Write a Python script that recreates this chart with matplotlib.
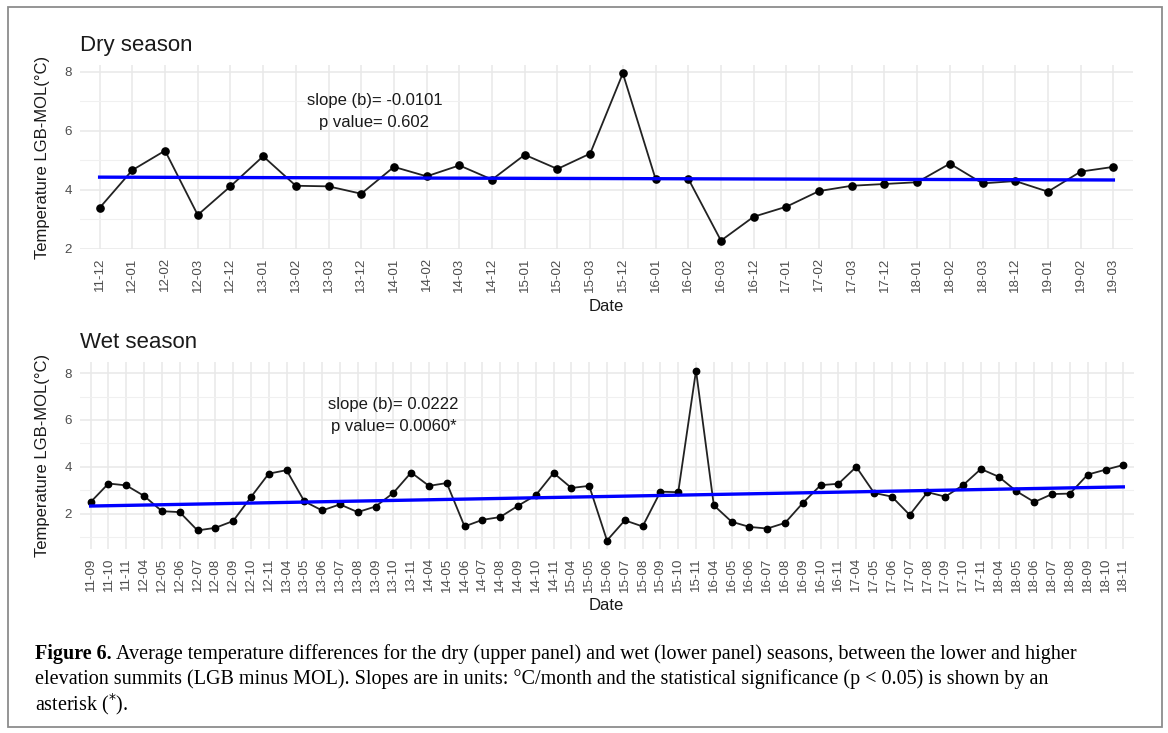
import numpy as np
import matplotlib.pyplot as plt
from matplotlib.patches import Rectangle

plt.rcParams['font.family'] = ['Liberation Sans', 'DejaVu Sans']

# dry season (upper panel)
dry_dates = ['11-12', '12-01', '12-02', '12-03', '12-12', '13-01', '13-02', '13-03',
             '13-12', '14-01', '14-02', '14-03', '14-12', '15-01', '15-02', '15-03',
             '15-12', '16-01', '16-02', '16-03', '16-12', '17-01', '17-02', '17-03',
             '17-12', '18-01', '18-02', '18-03', '18-12', '19-01', '19-02', '19-03']
dry_temp = [3.38, 4.66, 5.32, 3.14, 4.11, 5.13, 4.13, 4.11,
            3.86, 4.77, 4.45, 4.82, 4.34, 5.18, 4.70, 5.22,
            7.94, 4.36, 4.37, 2.27, 3.08, 3.42, 3.95, 4.13,
            4.19, 4.25, 4.88, 4.21, 4.29, 3.93, 4.61, 4.77]
dry_note = 'slope (b)= -0.0101\np value= 0.602'

# wet season (lower panel)
wet_dates = ['11-09', '11-10', '11-11',
             '12-04', '12-05', '12-06', '12-07', '12-08', '12-09', '12-10', '12-11',
             '13-04', '13-05', '13-06', '13-07', '13-08', '13-09', '13-10', '13-11',
             '14-04', '14-05', '14-06', '14-07', '14-08', '14-09', '14-10', '14-11',
             '15-04', '15-05', '15-06', '15-07', '15-08', '15-09', '15-10', '15-11',
             '16-04', '16-05', '16-06', '16-07', '16-08', '16-09', '16-10', '16-11',
             '17-04', '17-05', '17-06', '17-07', '17-08', '17-09', '17-10', '17-11',
             '18-04', '18-05', '18-06', '18-07', '18-08', '18-09', '18-10', '18-11']
wet_temp = [2.50, 3.29, 3.21,
            2.76, 2.11, 2.07, 1.29, 1.40, 1.69, 2.71, 3.71,
            3.86, 2.53, 2.14, 2.40, 2.07, 2.31, 2.89, 3.76,
            3.19, 3.31, 1.46, 1.74, 1.86, 2.34, 2.79, 3.74,
            3.10, 3.19, 0.86, 1.72, 1.46, 2.94, 2.92, 8.11,
            2.36, 1.66, 1.44, 1.37, 1.61, 2.46, 3.22, 3.28,
            4.00, 2.89, 2.73, 1.95, 2.92, 2.73, 3.22, 3.91,
            3.58, 2.96, 2.50, 2.84, 2.86, 3.67, 3.88, 4.08]
wet_note = 'slope (b)= 0.0222\np value= 0.0060*'

W, H = 1168, 733
fig = plt.figure(figsize=(W / 100, H / 100), dpi=100)


def px(x0, y0, x1, y1):
    # pixel box -> figure fraction [left, bottom, width, height]
    return [x0 / W, 1 - y1 / H, (x1 - x0) / W, (y1 - y0) / H]


def panel(box, dates, temp, ymin_ticks, note, note_xy, msize):
    ax = fig.add_axes(box)
    x = np.arange(len(dates))
    temp = np.array(temp)
    b, a = np.polyfit(x, temp, 1)          # linear trend like geom_smooth(lm)
    ax.plot(x, temp, color='#222222', lw=1.3, zorder=3)
    ax.plot(x, temp, 'o', color='black', ms=msize, zorder=4)
    ax.plot(x, a + b * x, color='#0000FF', lw=2.4, zorder=5)
    span = temp.max() - temp.min()
    ax.set_ylim(temp.min() - 0.05 * span, temp.max() + 0.05 * span)
    ax.set_xlim(-0.6, len(dates) - 0.4)
    ax.set_xticks(x)
    ax.set_xticklabels(dates, rotation=90, fontsize=9.6, color='#4D4D4D')
    ax.set_yticks([2, 4, 6, 8])
    ax.set_yticks(ymin_ticks, minor=True)
    ax.tick_params(axis='y', labelsize=9.6, labelcolor='#4D4D4D')
    ax.tick_params(which='both', length=0, pad=6)
    ax.grid(which='major', color='#E8E8E8', lw=1.1)
    ax.grid(which='minor', axis='y', color='#F0F0F0', lw=0.8)
    ax.set_axisbelow(True)
    for s in ax.spines.values():
        s.set_visible(False)
    ax.text(note_xy[0], note_xy[1], note, ha='center', va='center',
            fontsize=12, linespacing=1.6, color='#1A1A1A')
    return ax


ax1 = panel(px(80, 65, 1133, 249), dry_dates, dry_temp, [3, 5, 7],
            dry_note, (8.4, 6.64), 5.2)
ax2 = panel(px(80, 362, 1134, 549), wet_dates, wet_temp, [1, 3, 5, 7],
            wet_note, (17.0, 6.2), 4.6)

# titles, axis titles
fig.text(80 / W, 1 - 45 / H, 'Dry season', fontsize=16, va='center', color='#1A1A1A')
fig.text(80 / W, 1 - 343 / H, 'Wet season', fontsize=16, va='center', color='#1A1A1A')
for yc in [157, 455]:
    fig.text(43 / W, 1 - yc / H, 'Temperature LGB-MOL(°C)', rotation=90,
             fontsize=12, ha='center', va='center', color='#1A1A1A')
for yc in [307, 605]:
    fig.text(606 / W, 1 - yc / H, 'Date', fontsize=12, ha='center', va='center',
             color='#1A1A1A')

# caption
cap_font = ['Liberation Serif', 'DejaVu Serif']
cap_size = 14.5
t1 = fig.text(35 / W, 1 - 654 / H, 'Figure 6.', fontsize=cap_size, fontweight='bold',
              family=cap_font, va='center')
fig.canvas.draw()
bb = t1.get_window_extent(fig.canvas.get_renderer())
fig.text((bb.x1 + 4) / W, 1 - 654 / H,
         'Average temperature differences for the dry (upper panel) and wet (lower panel) '
         'seasons, between the lower and higher',
         fontsize=cap_size, family=cap_font, va='center')
fig.text(35 / W, 1 - 679 / H,
         'elevation summits (LGB minus MOL). Slopes are in units: °C/month and the '
         'statistical significance (p < 0.05) is shown by an',
         fontsize=cap_size, family=cap_font, va='center')
fig.text(35 / W, 1 - 704 / H, r'asterisk ($^{*}$).', fontsize=cap_size, family=cap_font,
         va='center')

# grey frame round the figure
fig.patches.append(Rectangle((8 / W, 1 - 727 / H), 1154 / W, 720 / H,
                             transform=fig.transFigure, fill=False,
                             edgecolor='#8C8C8C', lw=1.3))

fig.savefig('out.png', dpi=100)
